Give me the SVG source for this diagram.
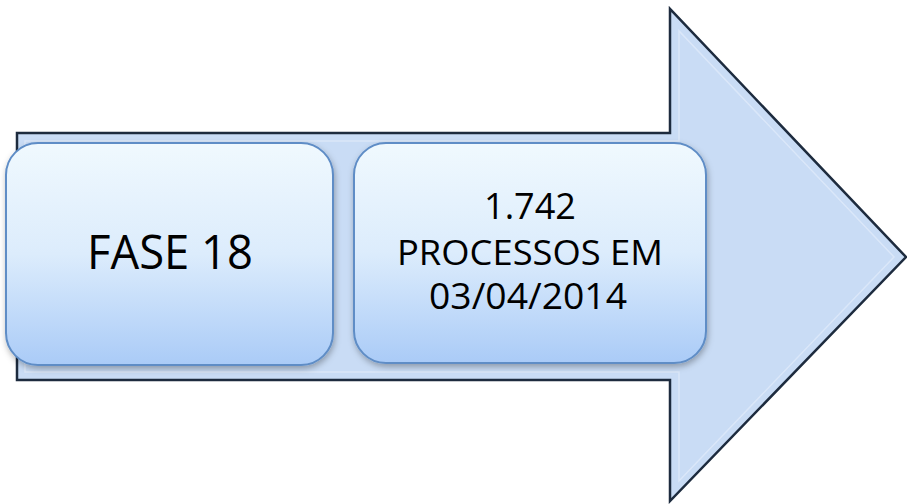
<svg xmlns="http://www.w3.org/2000/svg" width="907" height="504" viewBox="0 0 907 504">
  <defs>
    <linearGradient id="boxFill" x1="0" y1="0" x2="0" y2="1">
      <stop offset="0" stop-color="#f0f9fe"/>
      <stop offset="0.5" stop-color="#dcecfc"/>
      <stop offset="1" stop-color="#aacbf7"/>
    </linearGradient>
    <filter id="shadow" x="-10%" y="-10%" width="125%" height="130%">
      <feDropShadow dx="1" dy="3" stdDeviation="3" flood-color="#000" flood-opacity="0.3"/>
    </filter>
    <style>
      .box { fill: url(#boxFill); stroke: #5f8dc6; stroke-width: 2; filter: url(#shadow); }
      .label { font-family: "Open Sans", "Liberation Sans", Arial, sans-serif; fill: #000; text-anchor: middle; }
    </style>
  </defs>

  <!-- Large block arrow backdrop -->
  <g id="arrow">
    <polygon points="17,133 670,133 670,9 906,257 670,501 670,380 17,380"
             fill="#c9dcf5" stroke="#1d2b3e" stroke-width="2.5" stroke-linejoin="miter"/>
    <polygon points="25,141 679,141 679,31 894,257 679,481 679,372 25,372"
             fill="none" stroke="#e6effb" stroke-width="1.5" opacity="0.6"/>
  </g>

  <!-- Stage box -->
  <g id="node-fase">
    <rect class="box" x="6" y="143" width="327" height="222" rx="32" ry="32"/>
    <text class="label" x="170" y="269" font-size="47" textLength="166" lengthAdjust="spacingAndGlyphs">FASE 18</text>
  </g>

  <!-- Count box -->
  <g id="node-processos">
    <rect class="box" x="354" y="143" width="352" height="220" rx="32" ry="32"/>
    <text class="label" x="530" y="219" font-size="36" textLength="92" lengthAdjust="spacingAndGlyphs">1.742</text>
    <text class="label" x="530" y="265" font-size="35" textLength="266" lengthAdjust="spacingAndGlyphs">PROCESSOS EM</text>
    <text class="label" x="528" y="309" font-size="36" textLength="198" lengthAdjust="spacingAndGlyphs">03/04/2014</text>
  </g>

  <g id="connectors"/>
</svg>
